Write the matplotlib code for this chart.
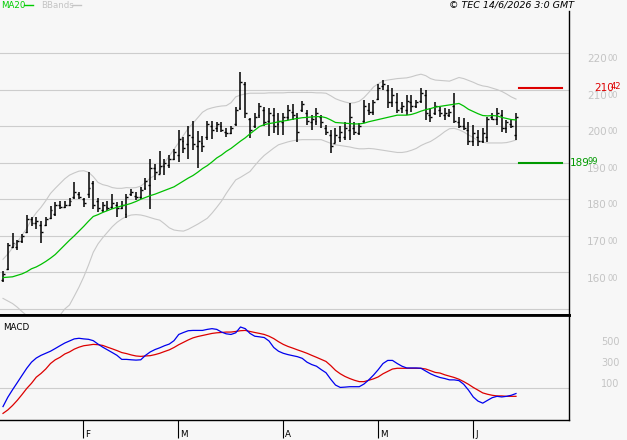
import numpy as np
import matplotlib
matplotlib.use("Agg")
import matplotlib.pyplot as plt
from matplotlib.lines import Line2D

# ---------------- data ----------------
high = [160.4, 168.1, 170.7, 168.9, 170.5, 175.7, 175.2, 175.2, 174.1, 175.2,
        178.2, 179.2, 179.5, 179.6, 180.4, 184.6, 181.9, 180.4, 187.4, 185.1,
        180.4, 179.3, 179.5, 181.4, 179.2, 179.5, 181.4, 182.8, 181.9, 183.4,
        185.9, 191.0, 189.6, 193.2, 191.0, 192.1, 193.8, 199.0, 197.0, 199.9,
        201.5, 198.7, 197.3, 201.4, 201.4, 201.0, 201.0, 199.4, 200.1, 205.3,
        214.7, 212.2, 202.1, 203.5, 206.4, 205.3, 205.0, 204.9, 203.5, 203.5,
        205.8, 206.1, 203.5, 207.0, 204.4, 203.0, 204.9, 203.0, 200.3, 198.9,
        199.4, 199.9, 201.2, 206.2, 201.2, 200.8, 207.1, 206.2, 207.1, 211.4,
        212.6, 211.2, 210.3, 209.0, 206.7, 208.5, 208.5, 207.1, 210.3, 209.9,
        204.9, 206.7, 205.3, 204.9, 204.6, 209.0, 202.6, 202.1, 201.2, 200.3,
        198.9, 199.4, 202.6, 203.5, 204.9, 204.4, 201.7, 201.7, 203.5]
low = [157.3, 160.7, 166.6, 166.1, 168.0, 170.9, 172.8, 171.8, 168.1, 172.8,
       174.5, 175.5, 177.3, 177.7, 178.2, 180.0, 180.0, 178.0, 180.4, 177.3,
       176.6, 176.4, 176.9, 177.3, 175.1, 177.3, 174.8, 180.9, 179.8, 180.0,
       182.5, 177.3, 185.3, 186.8, 186.6, 188.5, 190.7, 190.1, 192.6, 191.0,
       193.5, 188.5, 192.8, 196.2, 196.5, 198.5, 198.3, 196.9, 197.9, 199.9,
       204.4, 202.1, 196.7, 199.4, 202.1, 199.9, 197.3, 198.0, 197.6, 197.6,
       201.7, 201.7, 195.7, 204.0, 200.3, 198.9, 200.3, 199.4, 197.6, 192.7,
       195.3, 195.7, 196.2, 196.2, 197.6, 197.6, 200.8, 203.0, 203.0, 207.1,
       209.9, 204.9, 205.3, 203.5, 203.5, 203.0, 204.0, 204.9, 206.2, 201.7,
       201.2, 203.0, 202.6, 201.7, 202.4, 200.8, 199.4, 198.9, 194.8, 194.6,
       194.6, 195.3, 195.7, 201.7, 200.3, 198.5, 198.0, 199.4, 196.2]
opn = [158.0, 161.0, 167.0, 167.0, 168.5, 171.0, 174.5, 173.5, 173.0, 173.0,
       175.0, 176.0, 178.5, 178.0, 178.5, 180.5, 181.5, 180.0, 181.5, 184.5,
       179.5, 177.0, 178.0, 178.0, 178.5, 177.5, 176.0, 181.5, 181.0, 180.5,
       183.0, 184.0, 188.5, 187.0, 189.0, 189.5, 191.0, 192.0, 196.0, 195.0,
       197.0, 194.5, 195.5, 197.0, 200.0, 199.5, 200.0, 198.5, 198.0, 200.5,
       205.0, 211.5, 202.0, 200.0, 203.0, 204.5, 201.5, 203.0, 200.5, 201.0,
       202.5, 204.0, 202.5, 204.5, 203.5, 201.0, 201.5, 202.5, 199.5, 197.5,
       195.5, 197.0, 197.0, 199.0, 199.5, 198.0, 201.5, 204.5, 204.0, 207.5,
       211.0, 210.0, 206.5, 206.5, 205.0, 204.5, 206.5, 205.5, 207.0, 208.5,
       203.0, 203.5, 204.5, 203.0, 203.0, 205.5, 201.0, 200.0, 199.0, 196.0,
       197.0, 196.0, 197.0, 202.5, 202.0, 203.0, 199.5, 200.5, 197.5]
cls = [159.5, 167.5, 168.0, 168.5, 170.0, 174.5, 173.5, 174.0, 171.0, 174.5,
       177.0, 178.5, 178.0, 178.5, 179.5, 182.0, 180.5, 179.0, 183.0, 178.5,
       177.5, 178.5, 177.5, 179.0, 177.5, 178.5, 180.5, 182.0, 180.5, 182.5,
       185.0, 188.5, 187.5, 189.0, 190.0, 191.0, 193.0, 196.5, 194.0, 197.5,
       195.0, 196.0, 194.5, 200.5, 199.0, 200.5, 199.0, 198.0, 199.5, 204.5,
       212.0, 203.5, 199.0, 202.5, 205.5, 201.0, 203.5, 200.0, 201.5, 202.5,
       204.5, 203.0, 198.5, 206.0, 201.5, 202.0, 203.5, 201.0, 198.5, 194.5,
       197.5, 198.5, 199.5, 202.5, 198.5, 200.0, 205.5, 204.0, 206.5, 210.5,
       211.5, 206.5, 208.5, 204.5, 205.5, 207.0, 205.5, 206.5, 209.0, 203.5,
       202.5, 205.5, 203.5, 203.5, 204.0, 201.5, 200.0, 199.5, 196.0, 198.0,
       196.0, 198.0, 202.0, 202.0, 203.5, 199.5, 201.0, 200.0, 202.5]
ma20 = [158.6, 158.7, 158.8, 159.2, 159.6, 160.2, 161.0, 161.5, 162.2, 163.0,
        163.9, 164.9, 166.2, 167.5, 168.8, 170.0, 171.3, 172.6, 174.0, 175.3,
        175.8, 176.4, 176.9, 177.4, 177.8, 178.2, 178.5, 178.9, 179.4, 180.0,
        180.5, 181.0, 181.4, 181.9, 182.4, 182.9, 183.4, 184.2, 185.0, 185.8,
        186.5, 187.4, 188.4, 189.2, 190.2, 191.3, 192.1, 193.1, 193.9, 194.9,
        195.9, 196.8, 197.9, 198.9, 199.9, 200.4, 200.7, 200.9, 201.2, 201.4,
        201.6, 201.9, 202.1, 202.3, 202.4, 202.5, 202.6, 202.6, 202.3, 201.7,
        201.0, 200.9, 200.8, 200.7, 200.6, 200.6, 200.8, 201.2, 201.5, 201.8,
        202.1, 202.4, 202.7, 203.0, 203.0, 203.0, 203.2, 203.6, 204.1, 204.5,
        204.8, 205.2, 205.4, 205.6, 205.8, 206.0, 206.2, 205.5, 204.6, 204.0,
        203.4, 202.9, 202.8, 202.9, 202.8, 202.4, 202.1, 201.8, 201.7]
bb_upper = [163.6, 165.0, 166.7, 168.3, 170.2, 172.0, 174.5, 176.3, 177.8, 179.6,
            181.6, 183.0, 184.3, 185.6, 186.6, 187.2, 187.7, 187.8, 187.4, 186.2,
            184.6, 184.0, 183.7, 183.2, 183.0, 183.0, 183.2, 183.1, 183.2, 183.6,
            184.6, 185.8, 186.5, 188.0, 190.0, 191.8, 193.7, 195.5, 197.5, 199.4,
            200.8, 202.3, 203.8, 204.6, 205.0, 205.3, 205.5, 205.6, 206.4, 208.0,
            208.5, 208.8, 209.0, 209.0, 209.0, 209.0, 209.1, 209.1, 209.1, 209.1,
            209.2, 209.2, 209.2, 209.2, 209.2, 209.2, 209.1, 209.1, 209.0, 208.3,
            207.5, 207.0, 206.6, 206.3, 206.4, 206.8, 207.8, 209.2, 210.7, 211.6,
            212.3, 212.6, 212.8, 213.0, 213.1, 213.2, 213.5, 213.9, 214.2, 213.8,
            213.0, 212.6, 212.5, 212.4, 212.3, 212.8, 213.3, 213.0, 212.5, 212.0,
            211.4, 211.0, 210.8, 210.4, 210.0, 209.5, 208.8, 208.0, 207.4]
bb_lower = [152.9, 152.2, 151.5, 150.5, 149.3, 148.2, 147.5, 147.0, 146.6, 146.3,
            146.2, 147.0, 148.3, 150.0, 151.1, 153.5, 156.0, 158.8, 162.0, 165.5,
            167.8, 169.5, 171.0, 172.5, 173.7, 174.6, 175.3, 175.7, 175.8, 175.7,
            175.4, 175.0, 174.6, 174.3, 173.3, 172.2, 171.6, 171.4, 171.3, 171.8,
            172.5, 173.2, 174.0, 174.8, 176.2, 177.8, 179.5, 181.6, 183.5, 185.3,
            186.0, 186.8, 187.6, 189.2, 190.7, 192.0, 193.0, 194.0, 194.9, 195.3,
            195.7, 196.0, 196.2, 196.3, 196.3, 196.3, 196.3, 196.3, 195.8, 195.3,
            194.9, 194.7, 194.5, 194.3, 194.0, 193.8, 193.8, 193.9, 193.8, 193.6,
            193.4, 193.2, 193.0, 192.8, 192.8, 193.0, 193.4, 193.9, 194.7, 195.3,
            195.8, 196.6, 197.5, 198.5, 199.3, 199.4, 199.0, 198.4, 197.6, 196.9,
            196.0, 195.6, 195.4, 195.4, 195.4, 195.4, 195.5, 195.8, 196.2]
macd = [-182, -93, -20, 49, 119, 188, 247, 287, 313, 333,
        353, 379, 406, 432, 452, 472, 478, 472, 468, 455,
        422, 392, 366, 340, 313, 274, 274, 270, 267, 270,
        313, 346, 369, 386, 406, 422, 455, 515, 534, 551,
        554, 554, 554, 564, 571, 564, 538, 521, 515, 531,
        587, 571, 525, 498, 492, 485, 452, 389, 353, 333,
        320, 310, 300, 284, 247, 224, 208, 175, 145, 82,
        26, 3, 6, 10, 10, 10, 36, 76, 122, 175,
        234, 264, 264, 234, 208, 191, 191, 191, 188, 161,
        135, 115, 99, 89, 76, 76, 69, 33, -23, -89,
        -129, -149, -122, -96, -83, -89, -83, -73, -56]
signal = [-248, -215, -172, -122, -66, -7, 43, 102, 138, 181,
          234, 270, 294, 326, 346, 373, 392, 406, 412, 419,
          416, 409, 392, 376, 359, 340, 330, 317, 307, 303,
          307, 310, 320, 333, 350, 366, 389, 416, 439, 462,
          482, 495, 505, 515, 525, 531, 534, 538, 538, 544,
          551, 554, 544, 534, 525, 515, 498, 475, 445, 419,
          399, 383, 366, 350, 333, 313, 294, 274, 254, 214,
          168, 135, 109, 89, 72, 59, 59, 72, 86, 105,
          135, 158, 181, 188, 188, 188, 188, 188, 188, 181,
          165, 148, 142, 125, 112, 99, 82, 59, 33, 3,
          -23, -50, -63, -73, -79, -79, -83, -83, -83]
price_grid = [150, 160, 170, 180, 190, 200, 210, 220]
price_labels = [160, 170, 180, 190, 200, 210, 220]
macd_labels = [500, 300, 100]
month_labels = ["F", "M", "A", "M", "J"]
month_start = [17, 37, 59, 79, 99]
last_high = 210.42
last_low = 189.99

# ---------------- style ----------------
BG = "#f7f7f7"
GRID = "#cdcdcd"
LBL = "#c4c4c4"
GREEN = "#00c000"
plt.rcParams["font.family"] = ["DejaVu Sans"]

W, H = 627, 440
fig = plt.figure(figsize=(W / 100, H / 100), dpi=100, facecolor=BG)


def fx(px):
    return px / W


def fy(py):
    return 1 - py / H


ax = fig.add_axes([0, fy(315), fx(569), (315 - 11) / H], facecolor=BG)
ax2 = fig.add_axes([0, fy(419.5), fx(569), (419.5 - 315) / H], facecolor=BG)

n = len(high)
x = np.arange(n)
xlim = (-0.632, 119.16)

# ----- price panel -----
for v in price_grid:
    ax.axhline(v, color=GRID, lw=0.8, zorder=0)
ax.plot(x, bb_upper, color="#c8c8c8", lw=0.8, zorder=1)
ax.plot(x, bb_lower, color="#c8c8c8", lw=0.8, zorder=1)
ax.plot(x, ma20, color=GREEN, lw=0.9, zorder=3)
ax.vlines(x, low, high, color="black", lw=1.1, zorder=2)
ax.hlines(opn, x - 0.42, x, color="black", lw=1.0, zorder=2)
ax.hlines(cls, x, x + 0.42, color="black", lw=1.0, zorder=2)

ax.axhline(last_high, xmin=519 / 569, xmax=562 / 569, color="#dd0000", lw=1.5)
ax.axhline(last_low, xmin=519 / 569, xmax=562 / 569, color="#009900", lw=1.5)

ax.set_xlim(*xlim)
ax.set_ylim(148.36, 231.48)
ax.set_xticks([])
ax.set_yticks([])
for s in ("left", "top"):
    ax.spines[s].set_visible(False)
ax.spines["right"].set_color("black")
ax.spines["right"].set_linewidth(1.0)
ax.spines["bottom"].set_color("black")
ax.spines["bottom"].set_linewidth(2.0)

ytr = ax.get_yaxis_transform()
for v in price_labels:
    ax.annotate(f"{v}", xy=(587 / 569, v), xycoords=ytr, xytext=(0, -0.8),
                textcoords="offset points", ha="left", va="top",
                fontsize=7.5, color=LBL, annotation_clip=False)
    ax.annotate("00", xy=(608 / 569, v), xycoords=ytr, xytext=(0, -0.8),
                textcoords="offset points", ha="left", va="top",
                fontsize=6, color=LBL, annotation_clip=False)

hi_int, hi_dec = f"{last_high:.2f}".split(".")
lo_int, lo_dec = f"{last_low:.2f}".split(".")
ax.annotate(hi_int, xy=(594 / 569, last_high), xycoords=ytr, ha="left",
            va="center", fontsize=7.5, color="#dd0000", annotation_clip=False)
ax.annotate(hi_dec, xy=(611 / 569, last_high), xycoords=ytr, xytext=(0, 1),
            textcoords="offset points", ha="left", va="center", fontsize=6,
            color="#dd0000", annotation_clip=False)
ax.annotate(lo_int, xy=(570 / 569, last_low), xycoords=ytr, ha="left",
            va="center", fontsize=7.5, color="#009900", annotation_clip=False)
ax.annotate(lo_dec, xy=(587 / 569, last_low), xycoords=ytr, xytext=(0, 1),
            textcoords="offset points", ha="left", va="center", fontsize=6,
            color="#009900", annotation_clip=False)

# ----- MACD panel -----
ax2.axhline(0, color=GRID, lw=0.8, zorder=0)
ax2.plot(x, signal, color="#dd0000", lw=0.9, zorder=2)
ax2.plot(x, macd, color="#0000ee", lw=0.9, zorder=3)
ax2.set_xlim(*xlim)
ax2.set_ylim(-307, 703)
ax2.set_yticks([])
ax2.spines["left"].set_visible(False)
for s in ("top", "right", "bottom"):
    ax2.spines[s].set_color("black")
ax2.spines["top"].set_linewidth(2.0)
ax2.spines["right"].set_linewidth(1.0)
ax2.spines["bottom"].set_linewidth(1.0)
tick_pos = [m - 0.15 for m in month_start]
ax2.set_xticks(tick_pos)
ax2.tick_params(axis="x", direction="out", length=13, width=0.8,
                color="black", labelbottom=False)
for p, lbl in zip(tick_pos, month_labels):
    ax2.annotate(lbl, xy=(p, 0), xycoords=("data", "axes fraction"),
                 xytext=(1.8, -12.8), textcoords="offset points",
                 ha="left", va="baseline", fontsize=6.3, color="black",
                 annotation_clip=False)

ytr2 = ax2.get_yaxis_transform()
for v in macd_labels:
    ax2.annotate(f"{v}", xy=(601 / 569, v), xycoords=ytr2, xytext=(0, -0.8),
                 textcoords="offset points", ha="left", va="top",
                 fontsize=7, color=LBL, annotation_clip=False)
ax2.text(3 / 569, 1 - 12.5 / 104.5, "MACD", transform=ax2.transAxes,
         ha="left", va="center", fontsize=6.3, color="black")

# ----- header -----
fig.text(fx(1), fy(5), "MA20", ha="left", va="center", fontsize=6.2,
         color="#00cc00")
fig.add_artist(Line2D([fx(24), fx(33)], [fy(5), fy(5)], color="#00cc00",
                      lw=1.0, transform=fig.transFigure))
fig.text(fx(41), fy(5), "BBands", ha="left", va="center", fontsize=6.2,
         color="#c4c4c4")
fig.add_artist(Line2D([fx(72), fx(81)], [fy(5), fy(5)], color="#c4c4c4",
                      lw=1.0, transform=fig.transFigure))
fig.text(fx(574), fy(5), "\u00a9 TEC 14/6/2026 3:0 GMT", ha="right",
         va="center", fontsize=6.8, fontstyle="italic", color="black")

fig.savefig("out.png", dpi=100, facecolor=BG)
